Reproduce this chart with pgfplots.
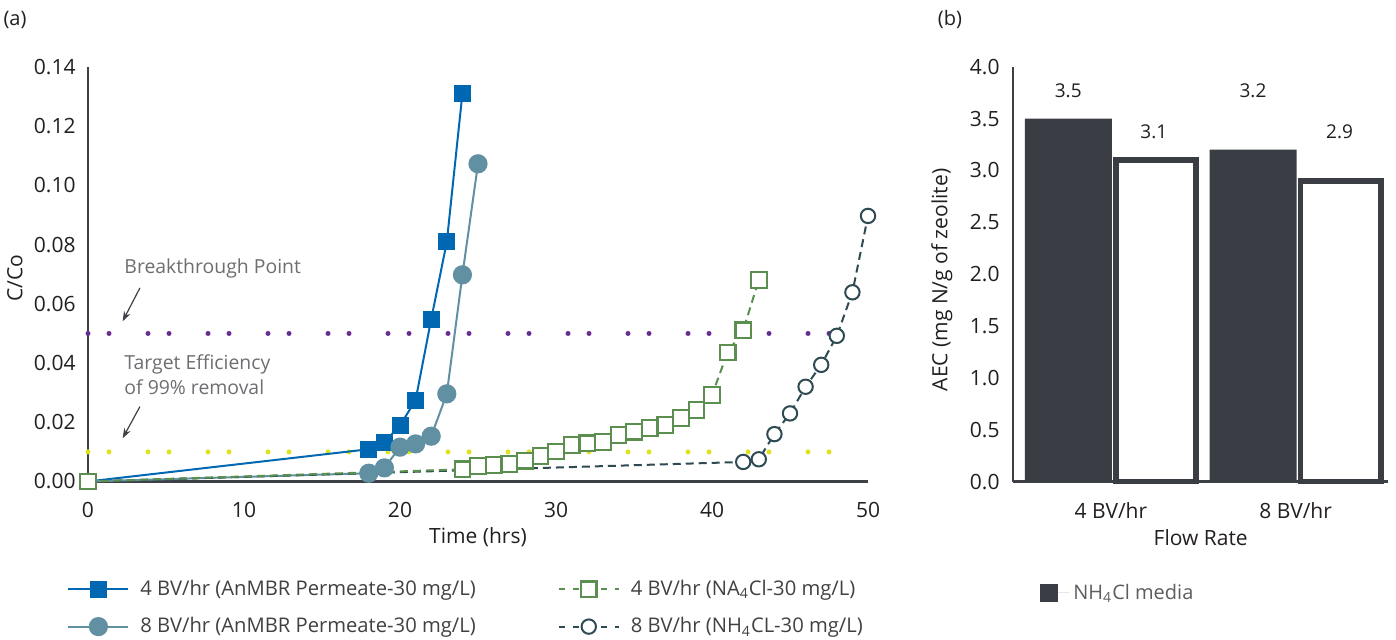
\documentclass[border=0pt]{standalone}
\usepackage{fontspec}
\setmainfont{Open Sans}
\usepackage{pgfplots}
\pgfplotsset{compat=1.18}
\usetikzlibrary{arrows.meta}

\definecolor{cblue}{HTML}{0068B3}
\definecolor{cteal}{HTML}{6090A2}
\definecolor{cgreen}{HTML}{5A8F50}
\definecolor{cdark}{HTML}{2E4A52}
\definecolor{cbar}{HTML}{3A3D44}
\definecolor{caxis}{HTML}{3D4046}
\definecolor{cpurple}{HTML}{662D91}
\definecolor{cyellow}{HTML}{DDE31C}
\definecolor{cnote}{HTML}{6D6E71}
\definecolor{ctext}{HTML}{231F20}
\definecolor{cleg}{HTML}{414042}

\pgfplotsset{
  panel/.style={
    scale only axis, clip=false,
    axis x line=bottom, axis y line=left,
    major tick length=0pt,
    /pgf/number format/assume math mode=true,
    tick label style={font=\fontsize{10.5}{12}\selectfont, text=ctext},
    label style={font=\fontsize{10.5}{12}\selectfont, text=ctext},
    xticklabel style={yshift=-7pt},
  },
  linelegend/.style={legend image code/.code={%
    \draw[mark repeat=2,mark phase=2,##1] plot coordinates {(0pt,0pt) (15pt,0pt) (30pt,0pt)};}},
}

\begin{document}
\begin{tikzpicture}
\path[use as bounding box] (0,0) rectangle (698pt,320pt);
\node[font=\fontsize{10}{12}\selectfont, text=ctext] at (7.5pt,310pt) {(a)};
\node[font=\fontsize{10}{12}\selectfont, text=ctext] at (475pt,310pt) {(b)};

% (a) breakthrough curves
\begin{axis}[panel,
  at={(44pt,79.25pt)}, anchor=south west,
  width=390pt, height=207.25pt,
  xmin=0, xmax=50, ymin=0, ymax=0.14,
  axis line style={-, caxis, line width=1.3pt},
  xtick={0,10,20,30,40,50},
  ytick={0,0.02,0.04,0.06,0.08,0.1,0.12,0.14},
  yticklabel style={xshift=-2.7pt, /pgf/number format/.cd, fixed, fixed zerofill, precision=2},
  xlabel={Time (hrs)}, ylabel={C/Co},
  xlabel style={at={(axis description cs:0.5,-0.134)}, anchor=center},
  ylabel style={at={(axis description cs:-0.0936,0.49)}, anchor=center},
  linelegend,
  legend columns=2,
  legend cell align=left,
  legend style={at={(axis description cs:-0.0346,-0.2176)}, anchor=north west,
    draw=none, fill=none, font=\fontsize{10.1}{11.5}\selectfont, text=cleg,
    row sep=5.5pt,
    /tikz/every odd column/.append style={column sep=3.5pt},
    /tikz/every even column/.append style={column sep=39pt}},
]
% reference levels
\addplot[cpurple, line width=2.5pt, line cap=round, dash pattern=on 0pt off 10.5pt on 0pt off 19.5pt, forget plot]
  coordinates {(0,0.05) (50,0.05)};
\addplot[cyellow, line width=2.5pt, line cap=round, dash pattern=on 0pt off 10.5pt on 0pt off 19.5pt, forget plot]
  coordinates {(0,0.01) (50,0.01)};

% 4 BV/hr AnMBR permeate
\addplot[cblue, line width=1pt, mark=square*, mark size=3.75pt, mark indices={2,3,4,5,6,7,8}, forget plot]
  coordinates {(0,0) (18,0.0109) (19,0.0133) (20,0.0189) (21,0.0275) (22,0.0548) (23,0.0809) (24,0.131)};
% 8 BV/hr AnMBR permeate
\addplot[cteal, line width=1pt, mark=*, mark size=4.3pt, mark indices={2,3,4,5,6,7,8,9}, forget plot]
  coordinates {(0,0) (18,0.0028) (19,0.0046) (20,0.0116) (21,0.0127) (22,0.0153) (23,0.0296) (24,0.0698) (25,0.1073)};
% 8 BV/hr NH4Cl
\addplot[cdark, line width=1pt, dash pattern=on 4pt off 2.5pt, mark=*, mark size=3.6pt,
  mark options={solid, fill=white, line width=1pt}, mark indices={2,3,4,5,6,7,8,9,10}, forget plot]
  coordinates {(0,0) (42,0.0066) (43,0.0075) (44,0.016) (45,0.023) (46,0.032) (47,0.0394) (48,0.0492) (49,0.0639) (50,0.0897)};
% 4 BV/hr NA4Cl
\addplot[cgreen, line width=1pt, dash pattern=on 4pt off 2.5pt, mark=square*, mark size=3.9pt,
  mark options={solid, fill=white, line width=1.1pt}, forget plot]
  coordinates {(0,0) (24,0.0041) (25,0.0052) (26,0.0056) (27,0.0059) (28,0.0070) (29,0.0086) (30,0.0101)
    (31,0.0123) (32,0.0129) (33,0.0134) (34,0.0157) (35,0.0168) (36,0.0181) (37,0.0191) (38,0.0214)
    (39,0.0242) (40,0.0292) (41,0.0436) (42,0.0511) (43,0.0681)};

\addlegendimage{cblue, line width=1pt, mark=square*, mark size=3.75pt}
\addlegendentry{4 BV/hr (AnMBR Permeate-30 mg/L)}
\addlegendimage{cgreen, line width=1pt, dash pattern=on 3pt off 4pt, mark=square*, mark size=3.9pt, mark options={solid, fill=white, line width=1.1pt}}
\addlegendentry{4 BV/hr (NA\textsubscript{4}Cl-30 mg/L)}
\addlegendimage{cteal, line width=1pt, mark=*, mark size=4.3pt}
\addlegendentry{8 BV/hr (AnMBR Permeate-30 mg/L)}
\addlegendimage{cdark, line width=1pt, dash pattern=on 3pt off 4pt, mark=*, mark size=3.6pt, mark options={solid, fill=white, line width=1pt}}
\addlegendentry{8 BV/hr (NH\textsubscript{4}CL-30 mg/L)}

\node[anchor=west, inner sep=0pt, text=cnote, font=\fontsize{9.7}{12}\selectfont] at (axis cs:2.31,0.0718) {Breakthrough Point};
\node[anchor=west, inner sep=0pt, text=cnote, align=left, font=\fontsize{9.7}{12.25}\selectfont] at (axis cs:2.31,0.036) {Target Efficiency\\of 99\% removal};
\draw[-{Stealth[length=5pt,width=3.5pt]}, caxis, line width=0.6pt] (axis cs:3.33,0.0654) -- (axis cs:2.22,0.0541);
\draw[-{Stealth[length=5pt,width=3.5pt]}, caxis, line width=0.6pt] (axis cs:3.33,0.0253) -- (axis cs:2.22,0.0146);
\end{axis}

% (b) AEC bars
\begin{axis}[panel,
  at={(506.5pt,79.15pt)}, anchor=south west,
  width=187.5pt, height=207.5pt,
  xmin=0.47, xmax=2.5, ymin=0, ymax=4,
  axis line style={-, caxis, line width=1.4pt},
  xtick={1,2}, xticklabels={4 BV/hr,8 BV/hr},
  ytick={0,0.5,1,1.5,2,2.5,3,3.5,4},
  yticklabel style={xshift=-3.2pt, /pgf/number format/.cd, fixed, fixed zerofill, precision=1},
  xlabel={Flow Rate}, ylabel={AEC (mg N/g of zeolite)},
  xlabel style={at={(axis description cs:0.5005,-0.1357)}, anchor=center},
  ylabel style={at={(axis description cs:-0.19,0.486)}, anchor=center},
  legend cell align=left,
  legend style={at={(axis description cs:0.056,-0.226)}, anchor=north west,
    draw=none, fill=none, font=\fontsize{10}{11.5}\selectfont, text=cleg!85},
]
\addplot[ybar, bar width=43.5pt, bar shift=-21.25pt, fill=cbar, draw=none,
  legend image code/.code={\fill[cbar] (0pt,-4.5pt) rectangle (9pt,4.5pt); \path (0pt,0pt) -- (14.5pt,0pt);}]
  coordinates {(1,3.5) (2,3.2)};
\addlegendentry{NH\textsubscript{4}Cl media}
\addplot[ybar, bar width=40.1pt, bar shift=22.5pt, fill=white, draw=cbar, line width=2.75pt, forget plot]
  coordinates {(1,3.1) (2,2.9)};

\node[font=\fontsize{9.5}{11}\selectfont, text=ctext] at (axis cs:0.769,3.767) {3.5};
\node[font=\fontsize{9.5}{11}\selectfont, text=ctext] at (axis cs:1.232,3.372) {3.1};
\node[font=\fontsize{9.5}{11}\selectfont, text=ctext] at (axis cs:1.769,3.767) {3.2};
\node[font=\fontsize{9.5}{11}\selectfont, text=ctext] at (axis cs:2.238,3.372) {2.9};
\end{axis}
\end{tikzpicture}
\end{document}
